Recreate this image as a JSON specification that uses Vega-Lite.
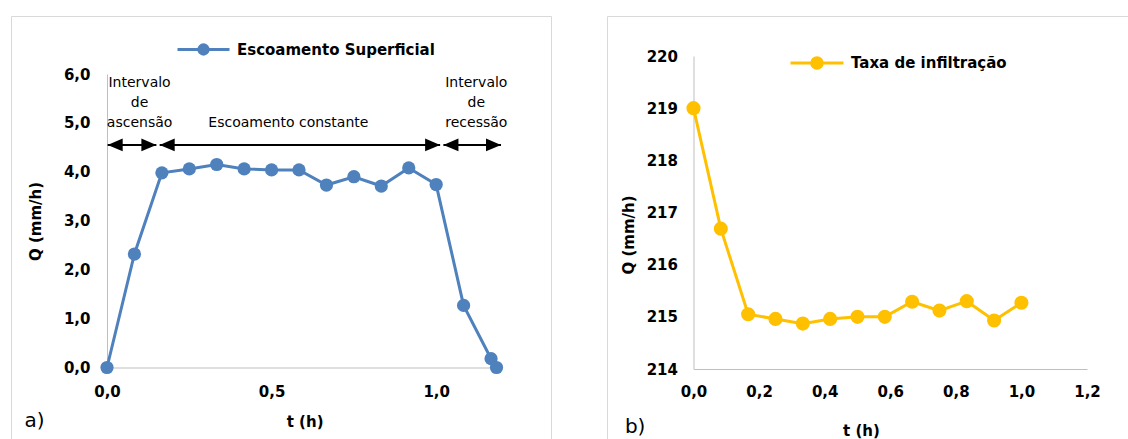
{
  "$schema": "https://vega.github.io/schema/vega-lite/v6.json",
  "padding": {"left": 10, "top": 15, "right": 0, "bottom": 0},
  "spacing": 56,
  "bounds": "flush",
  "resolve": {"scale": {"color": "independent", "x": "independent", "y": "independent"}, "legend": {"color": "independent"}},
  "config": {
    "view": {"stroke": "#d9d9d9", "strokeWidth": 1},
    "font": "DejaVu Sans",
    "axis": {"domainColor": "#bfbfbf", "domainWidth": 1, "ticks": false, "grid": false, "labelFlush": false, "labelOverlap": false,
      "labelFont": "DejaVu Sans", "labelFontSize": 15, "labelFontWeight": "bold", "labelColor": "#000000",
      "titleFont": "DejaVu Sans", "titleFontSize": 15, "titleFontWeight": "bold", "titleColor": "#000000"},
    "legend": {"labelFont": "DejaVu Sans", "labelFontSize": 15, "labelFontWeight": "bold", "labelColor": "#000000", "padding": 0, "labelLimit": 0}
  },
  "datasets": {
    "escoamento": [
      {"t": 0.0, "Q": 0.0, "serie": "Escoamento Superficial"},
      {"t": 0.0833, "Q": 2.32, "serie": "Escoamento Superficial"},
      {"t": 0.1667, "Q": 3.98, "serie": "Escoamento Superficial"},
      {"t": 0.25, "Q": 4.06, "serie": "Escoamento Superficial"},
      {"t": 0.3333, "Q": 4.15, "serie": "Escoamento Superficial"},
      {"t": 0.4167, "Q": 4.06, "serie": "Escoamento Superficial"},
      {"t": 0.5, "Q": 4.04, "serie": "Escoamento Superficial"},
      {"t": 0.5833, "Q": 4.04, "serie": "Escoamento Superficial"},
      {"t": 0.6667, "Q": 3.73, "serie": "Escoamento Superficial"},
      {"t": 0.75, "Q": 3.9, "serie": "Escoamento Superficial"},
      {"t": 0.8333, "Q": 3.71, "serie": "Escoamento Superficial"},
      {"t": 0.9167, "Q": 4.08, "serie": "Escoamento Superficial"},
      {"t": 1.0, "Q": 3.74, "serie": "Escoamento Superficial"},
      {"t": 1.0833, "Q": 1.27, "serie": "Escoamento Superficial"},
      {"t": 1.1667, "Q": 0.18, "serie": "Escoamento Superficial"},
      {"t": 1.1833, "Q": 0.0, "serie": "Escoamento Superficial"}
    ],
    "infiltracao": [
      {"t": 0.0, "Q": 219.0, "serie": "Taxa de infiltração"},
      {"t": 0.0833, "Q": 216.69, "serie": "Taxa de infiltração"},
      {"t": 0.1667, "Q": 215.05, "serie": "Taxa de infiltração"},
      {"t": 0.25, "Q": 214.96, "serie": "Taxa de infiltração"},
      {"t": 0.3333, "Q": 214.87, "serie": "Taxa de infiltração"},
      {"t": 0.4167, "Q": 214.96, "serie": "Taxa de infiltração"},
      {"t": 0.5, "Q": 215.0, "serie": "Taxa de infiltração"},
      {"t": 0.5833, "Q": 215.0, "serie": "Taxa de infiltração"},
      {"t": 0.6667, "Q": 215.29, "serie": "Taxa de infiltração"},
      {"t": 0.75, "Q": 215.12, "serie": "Taxa de infiltração"},
      {"t": 0.8333, "Q": 215.3, "serie": "Taxa de infiltração"},
      {"t": 0.9167, "Q": 214.93, "serie": "Taxa de infiltração"},
      {"t": 1.0, "Q": 215.27, "serie": "Taxa de infiltração"}
    ],
    "setas": [
      {"t0": 0.002, "t1": 0.15, "Q": 4.55},
      {"t0": 0.16, "t1": 1.012, "Q": 4.55},
      {"t0": 1.022, "t1": 1.197, "Q": 4.55}
    ],
    "rotulos": [
      {"t": 0.099, "Q": 5.82, "label": "Intervalo\nde\nascensão"},
      {"t": 0.551, "Q": 5.0, "label": "Escoamento constante"},
      {"t": 1.122, "Q": 5.82, "label": "Intervalo\nde\nrecessão"}
    ],
    "painelA": [{"t": -0.22, "Q": -1.09, "label": "a)"}],
    "painelB": [{"t": -0.178, "Q": 212.89, "label": "b)"}]
  },
  "hconcat": [
    {
      "width": 540,
      "height": 424,
      "layer": [
        {
          "data": {"name": "escoamento"},
          "mark": {"type": "line", "strokeWidth": 3, "color": "#4F81BD"},
          "encoding": {
            "x": {"field": "t", "type": "quantitative",
              "scale": {"domain": [0, 1.2], "range": [96, 491], "nice": false, "zero": false},
              "axis": {"values": [0, 0.5, 1], "labelExpr": "replace(format(datum.value, '.1f'), '.', ',')",
                "offset": -72.5, "labelPadding": 17, "title": "t (h)", "titleX": 293.6, "titleY": 53.5, "titleBaseline": "middle", "titleAlign": "center"}},
            "y": {"field": "Q", "type": "quantitative",
              "scale": {"domain": [0, 6], "range": [351.5, 58], "nice": false, "zero": false},
              "axis": {"values": [0, 1, 2, 3, 4, 5, 6], "labelExpr": "replace(format(datum.value, '.1f'), '.', ',')",
                "offset": -96, "labelPadding": 17, "title": "Q (mm/h)", "titleX": -72, "titleY": 205, "titleBaseline": "middle", "titleAlign": "center", "titleAngle": -90}}
          }
        },
        {
          "data": {"name": "escoamento"},
          "mark": {"type": "point", "filled": true, "size": 175, "opacity": 1},
          "encoding": {
            "x": {"field": "t", "type": "quantitative"},
            "y": {"field": "Q", "type": "quantitative"},
            "color": {"field": "serie", "type": "nominal", "scale": {"range": ["#4F81BD"]},
              "legend": {"orient": "none", "legendX": 165, "legendY": 6, "title": null,
                "symbolType": "M-1,0H1M-0.18,0A0.18,0.18,0,1,0,0.18,0A0.18,0.18,0,1,0,-0.18,0Z",
                "symbolSize": 2704, "symbolStrokeWidth": 3, "symbolStrokeColor": "#4F81BD", "symbolFillColor": "#4F81BD", "symbolOpacity": 1,
                "labelOffset": 6}}
          }
        },
        {
          "data": {"name": "setas"},
          "mark": {"type": "rule", "strokeWidth": 2, "color": "#000000"},
          "encoding": {
            "x": {"field": "t0", "type": "quantitative"},
            "x2": {"field": "t1"},
            "y": {"field": "Q", "type": "quantitative"}
          }
        },
        {
          "data": {"name": "setas"},
          "mark": {"type": "point", "filled": true, "opacity": 1, "color": "#000000", "size": 225, "shape": "M1,-0.85L-1,0L1,0.85Z", "xOffset": 7.5},
          "encoding": {
            "x": {"field": "t0", "type": "quantitative"},
            "y": {"field": "Q", "type": "quantitative"}
          }
        },
        {
          "data": {"name": "setas"},
          "mark": {"type": "point", "filled": true, "opacity": 1, "color": "#000000", "size": 225, "shape": "M-1,-0.85L1,0L-1,0.85Z", "xOffset": -7.5},
          "encoding": {
            "x": {"field": "t1", "type": "quantitative"},
            "y": {"field": "Q", "type": "quantitative"}
          }
        },
        {
          "data": {"name": "rotulos"},
          "mark": {"type": "text", "font": "DejaVu Sans", "fontSize": 14, "color": "#000000", "align": "center", "baseline": "middle", "lineBreak": "\n", "lineHeight": 20},
          "encoding": {
            "x": {"field": "t", "type": "quantitative"},
            "y": {"field": "Q", "type": "quantitative"},
            "text": {"field": "label"}
          }
        },
        {
          "data": {"name": "painelA"},
          "mark": {"type": "text", "font": "DejaVu Sans", "fontSize": 20, "color": "#000000", "align": "center", "baseline": "middle"},
          "encoding": {
            "x": {"field": "t", "type": "quantitative"},
            "y": {"field": "Q", "type": "quantitative"},
            "text": {"field": "label"}
          }
        }
      ]
    },
    {
      "width": 522,
      "height": 424,
      "layer": [
        {
          "data": {"name": "infiltracao"},
          "mark": {"type": "line", "strokeWidth": 3, "color": "#FFC000"},
          "encoding": {
            "x": {"field": "t", "type": "quantitative",
              "scale": {"domain": [0, 1.2], "range": [86.5, 480], "nice": false, "zero": false},
              "axis": {"values": [0, 0.2, 0.4, 0.6, 0.8, 1.0, 1.2], "labelExpr": "replace(format(datum.value, '.1f'), '.', ',')",
                "offset": -71, "labelPadding": 15, "title": "t (h)", "titleX": 254, "titleY": 61, "titleBaseline": "middle", "titleAlign": "center"}},
            "y": {"field": "Q", "type": "quantitative",
              "scale": {"domain": [214, 220], "range": [353, 40], "nice": false, "zero": false},
              "axis": {"values": [214, 215, 216, 217, 218, 219, 220], "format": "d",
                "offset": -86.5, "labelPadding": 16, "title": "Q (mm/h)", "titleX": -65.5, "titleY": 218.5, "titleBaseline": "middle", "titleAlign": "center", "titleAngle": -90}}
          }
        },
        {
          "data": {"name": "infiltracao"},
          "mark": {"type": "point", "filled": true, "size": 200, "opacity": 1},
          "encoding": {
            "x": {"field": "t", "type": "quantitative"},
            "y": {"field": "Q", "type": "quantitative"},
            "color": {"field": "serie", "type": "nominal", "scale": {"range": ["#FFC000"]},
              "legend": {"orient": "none", "legendX": 182, "legendY": 19, "title": null,
                "symbolType": "M-1,0H1M-0.2,0A0.2,0.2,0,1,0,0.2,0A0.2,0.2,0,1,0,-0.2,0Z",
                "symbolSize": 2809, "symbolStrokeWidth": 3, "symbolStrokeColor": "#FFC000", "symbolFillColor": "#FFC000", "symbolOpacity": 1,
                "labelOffset": 6}}
          }
        },
        {
          "data": {"name": "painelB"},
          "mark": {"type": "text", "font": "DejaVu Sans", "fontSize": 20, "color": "#000000", "align": "center", "baseline": "middle"},
          "encoding": {
            "x": {"field": "t", "type": "quantitative"},
            "y": {"field": "Q", "type": "quantitative"},
            "text": {"field": "label"}
          }
        }
      ]
    }
  ]
}
